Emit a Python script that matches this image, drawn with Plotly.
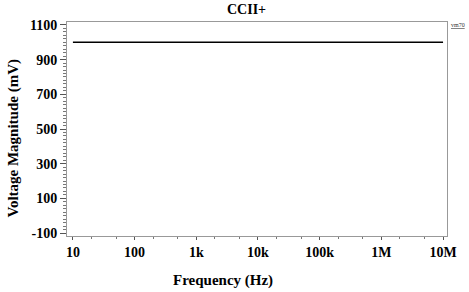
import plotly.graph_objects as go

freq_hz = [10, 100, 1000, 10000, 100000, 1000000, 10000000]
voltage_mv = [1000, 1000, 1000, 1000, 1000, 1000, 1000]
x_tick_vals = [10, 100, 1000, 10000, 100000, 1000000, 10000000]
x_tick_text = ["10", "100", "1k", "10k", "100k", "1M", "10M"]
y_tick_vals = [-100, 100, 300, 500, 700, 900, 1100]
y_tick_text = ["-100", "100", "300", "500", "700", "900", "1100"]

FONT = "Liberation Serif"

fig = go.Figure()
fig.add_trace(go.Scatter(x=freq_hz, y=voltage_mv, mode="lines",
                         line=dict(color="black", width=1.6), showlegend=False))

fig.update_layout(
    width=469, height=292,
    margin=dict(l=67, r=18, t=22, b=56),
    paper_bgcolor="white", plot_bgcolor="white",
    font=dict(family=FONT, color="black"),
    showlegend=False,
)
fig.update_xaxes(
    type="log", range=[0.904, 7.064],
    tickvals=x_tick_vals, ticktext=x_tick_text,
    tickfont=dict(family=FONT, size=14, color="black", weight="bold"),
    ticks="outside", ticklen=3, tickcolor="#555",
    minor=dict(ticks="outside", ticklen=2, tickcolor="#777", showgrid=False),
    showgrid=False, zeroline=False,
    showline=True, linecolor="#999", linewidth=1, mirror=True,
)
fig.update_yaxes(
    range=[-117, 1117],
    tickvals=y_tick_vals, ticktext=y_tick_text,
    tickfont=dict(family=FONT, size=14, color="black", weight="bold"),
    ticks="outside", ticklen=6, tickcolor="#555",
    minor=dict(dtick=20, tick0=0, ticks="outside", ticklen=3, tickcolor="#777", showgrid=False),
    showgrid=False, zeroline=False,
    showline=True, linecolor="#999", linewidth=1, mirror=True,
)
fig.add_annotation(text="CCII+", xref="paper", yref="paper",
                   x=(248 - 67) / 384, y=1 + 22 / 214, xanchor="center", yanchor="top",
                   showarrow=False, font=dict(family=FONT, size=14, color="black", weight="bold"))
fig.add_annotation(text="Frequency (Hz)", xref="paper", yref="paper",
                   x=(225 - 67) / 384, y=-(280 - 236) / 214, xanchor="center", yanchor="middle",
                   showarrow=False, font=dict(family=FONT, size=15, color="black", weight="bold"))
fig.add_annotation(text="Voltage Magnitude (mV)", xref="paper", yref="paper",
                   x=-(67 - 12) / 384, y=1 - (138 - 22) / 214, xanchor="center", yanchor="middle",
                   textangle=-90,
                   showarrow=False, font=dict(family=FONT, size=15, color="black", weight="bold"))
fig.add_annotation(text="<u>vm70</u>", xref="paper", yref="paper",
                   x=1 + 2 / 384, y=1 - 3 / 214, xanchor="left", yanchor="middle",
                   showarrow=False, font=dict(family=FONT, size=6, color="#333"))

fig.write_html("out.html")
